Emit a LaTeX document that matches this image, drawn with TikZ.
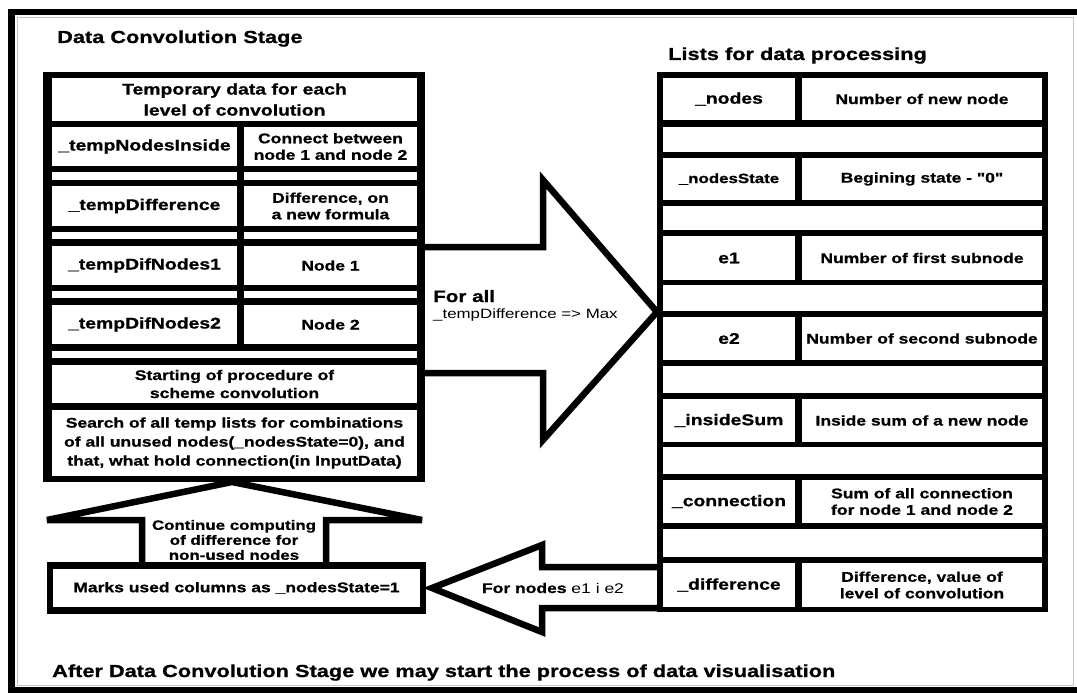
\documentclass[tikz,border=0pt]{standalone}
\usepackage{fontspec}
\setmainfont[FakeStretch=1.25, BoldFeatures={FakeBold=0.9}]{Liberation Sans}
\newfontfamily\plainq[FakeStretch=1.25, BoldFeatures={FakeBold=0.9}]{Liberation Sans}
\tikzset{
  cell/.style={fill=white, inner sep=0pt, align=center, text=black},
  lbl/.style={font=\fontsize{15.5}{18}\selectfont\bfseries},
  dsc/.style={font=\fontsize{14}{16.5}\selectfont\bfseries},
  ttl/.style={font=\fontsize{17.4}{20}\selectfont\bfseries, inner sep=0pt},
  blk/.style={line width=6.5pt, draw=black, line join=miter},
  plain/.style={inner sep=0pt},
}
\newcommand{\mycell}[7][]{%
  \node[cell,#1,minimum width={(#5-#3)*1pt},minimum height={(#6-#4)*1pt}] (#2) at ({(#3+#5)/2},{(#4+#6)/2}) {#7};}
\begin{document}
\begin{tikzpicture}[x=1pt,y=-1pt]
\useasboundingbox (0,0) rectangle (1077,693);
\fill[white] (0,0) rectangle (1077,693);
% faint inner frame
\draw[black!22, line width=1pt] (17,18) rectangle (1073,685);
% outer frame
\draw[line width=6.5pt] (1077,12) -- (11.5,12) -- (11.5,690) -- (1077,690);

% titles
\node[ttl, anchor=base west] (t1) at (57,43) {Data Convolution Stage};
\node[ttl, anchor=base west] (t2) at (668,60) {Lists for data processing};
\node[ttl, anchor=base west] (t3) at (52,677) {After Data Convolution Stage we may start the process of data visualisation};

% left table
\fill (43,72) rectangle (425,482);
\mycell[font=\fontsize{15.5}{21}\selectfont\bfseries]{L0}{52}{78}{417}{121}{Temporary data for each\\level of convolution}
\mycell[lbl]{L1a}{52}{127}{237}{166}{\_tempNodesInside}
\mycell[dsc]{L1b}{244}{127}{417}{166}{Connect between\\node 1 and node 2}
\mycell{L1e}{52}{172}{237}{180}{}
\mycell{L1f}{244}{172}{417}{180}{}
\mycell[lbl]{L2a}{52}{186}{237}{226}{\_tempDifference}
\mycell[dsc]{L2b}{244}{186}{417}{226}{Difference, on\\a new formula}
\mycell{L2e}{52}{232}{237}{239}{}
\mycell{L2f}{244}{232}{417}{239}{}
\mycell[lbl]{L3a}{52}{246}{237}{285}{\_tempDifNodes1}
\mycell[dsc]{L3b}{244}{246}{417}{285}{Node 1}
\mycell{L3e}{52}{291}{237}{298}{}
\mycell{L3f}{244}{291}{417}{298}{}
\mycell[lbl]{L4a}{52}{305}{237}{344}{\_tempDifNodes2}
\mycell[dsc]{L4b}{244}{305}{417}{344}{Node 2}
\mycell{L4e}{52}{351}{417}{358}{}
\mycell[font=\fontsize{14}{18}\selectfont\bfseries]{L5}{52}{365}{417}{403}{Starting of procedure of\\scheme convolution}
\mycell[font=\fontsize{14}{19}\selectfont\bfseries]{L6}{52}{410}{417}{476}{Search of all temp lists for combinations\\of all unused nodes(\_nodesState=0), and\\that, what hold connection(in InputData)}

% right table
\fill (657,72) rectangle (1048,612);
\mycell[lbl]{R1a}{663}{78}{795}{120}{\_nodes}
\mycell[dsc]{R1b}{802}{78}{1042}{120}{Number of new node}
\mycell{R1e}{663}{127}{1042}{152}{}
\mycell[font=\fontsize{13.5}{16}\selectfont\bfseries]{R2a}{663}{158}{795}{200}{\_nodesState}
\mycell[dsc]{R2b}{802}{158}{1042}{200}{Begining state - {\plainq\bfseries "0"}}
\mycell{R2e}{663}{206}{1042}{230}{}
\mycell[lbl]{R3a}{663}{236}{795}{280}{e1}
\mycell[dsc]{R3b}{802}{236}{1042}{280}{Number of first subnode}
\mycell{R3e}{663}{285}{1042}{311}{}
\mycell[lbl]{R4a}{663}{317}{795}{360}{e2}
\mycell[dsc]{R4b}{802}{317}{1042}{360}{Number of second subnode}
\mycell{R4e}{663}{366}{1042}{393}{}
\mycell[lbl]{R5a}{663}{399}{795}{442}{\_insideSum}
\mycell[dsc]{R5b}{802}{399}{1042}{442}{Inside sum of a new node}
\mycell{R5e}{663}{447}{1042}{474}{}
\mycell[lbl]{R6a}{663}{480}{795}{523}{\_connection}
\mycell[dsc]{R6b}{802}{480}{1042}{523}{Sum of all connection\\for node 1 and node 2}
\mycell{R6e}{663}{529}{1042}{557}{}
\mycell[lbl]{R7a}{663}{563}{795}{607}{\_difference}
\mycell[dsc]{R7b}{802}{563}{1042}{607}{Difference, value of\\level of convolution}

% big right arrow
\draw[blk] (425,247) -- (543,247) -- (543,180) -- (657,312) -- (543,440) -- (543,373) -- (425,373);
\node[plain, font=\fontsize{16.5}{20}\selectfont\bfseries, anchor=base west] (forall) at (433,302) {For all};
\node[plain, font=\fontsize{13.5}{16}\selectfont, anchor=base west] (maxtxt) at (433,318) {\_tempDifference => Max};

% up arrow
\draw[blk, miter limit=2] (142,563) -- (142,520) -- (47,520) -- (232,482) -- (422,520) -- (326,520) -- (326,563);
\node[plain, align=center, font=\fontsize{13.5}{15}\selectfont\bfseries] (cont) at (234,540) {Continue computing\\of difference for\\non-used nodes};

% marks box
\node[draw, line width=6.5pt, fill=white, dsc, minimum width=373pt, minimum height=45pt, inner sep=0pt] (marks) at (236.5,588) {Marks used columns as \_nodesState=1};

% left arrow
\draw[blk] (657,567) -- (542,567) -- (542,545) -- (432,588) -- (542,632) -- (542,608) -- (657,608);
\node[plain, dsc] (fornodes) at (553,588) {For nodes \textmd{e1 i e2}};
\end{tikzpicture}
\end{document}
